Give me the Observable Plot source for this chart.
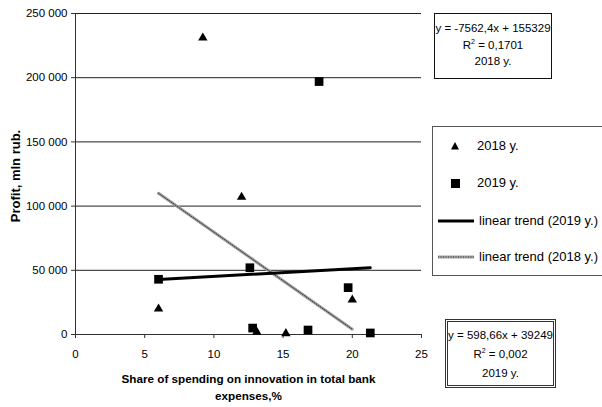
<!DOCTYPE html>
<html>
<head>
<meta charset="utf-8">
<script src="https://cdn.jsdelivr.net/npm/d3@7"></script>
<script src="https://cdn.jsdelivr.net/npm/@observablehq/plot@0.6"></script>
<style>
  html, body { margin: 0; padding: 0; background: #fff; }
  #wrap { position: relative; width: 602px; height: 407px; overflow: hidden; font-family: "Liberation Sans", Arial, sans-serif; color: #000; }
  #wrap svg.plot { position: absolute; left: 0; top: 0; }
  .box { position: absolute; background: #fff; text-align: center; font-size: 11.5px; box-sizing: border-box; }
  #eq2018 { left: 434px; top: 13px; width: 118px; height: 66px; border: 1.5px solid #111; line-height: 16.5px; padding-top: 6px; }
  #eq2019 { left: 445px; top: 319px; width: 111px; height: 69px; border: 3px double #333; line-height: 19px; padding-top: 4px; }
  #legend { position: absolute; left: 432px; top: 126px; width: 190px; height: 148px; border: 1px solid #555; background: #fff; font-size: 13px; }
  .li { position: absolute; left: 0; height: 16px; line-height: 16px; white-space: nowrap; }
  .li svg { position: absolute; left: 0; top: 0; }
  .li span { position: absolute; }
</style>
</head>
<body>
<div id="wrap"></div>
<script>
// ---- data ----
const series = ["2018 y.", "2019 y."];
const x2018 = [9.2, 12.0, 6.0, 13.1, 15.2, 20.0];
const y2018 = [231000, 107000, 20000, 2000, 800, 27000];
const x2019 = [17.6, 6.0, 12.6, 12.8, 16.8, 19.7, 21.3];
const y2019 = [197000, 43000, 52000, 5000, 3500, 36500, 1200];
const slope2018 = -7562.4, intercept2018 = 155329, r2_2018 = "0,1701";
const slope2019 = 598.66, intercept2019 = 39249, r2_2019 = "0,002";
const xTicks = [0, 5, 10, 15, 20, 25];
const yTicks = [0, 50000, 100000, 150000, 200000, 250000];
const xLabel = "Share of spending on innovation in total bank\nexpenses,%";
const yLabel = "Profit, mln rub.";
const trendLabels = ["linear trend (2019 y.)", "linear trend (2018 y.)"];

// ---- derived tables ----
const pts2018 = x2018.map((x, i) => ({x, y: y2018[i]}));
const pts2019 = x2019.map((x, i) => ({x, y: y2019[i]}));
const trend = (xs, m, b) => d3.extent(xs).map(x => ({x, y: m * x + b}));
const tr2018 = trend(x2018, slope2018, intercept2018);
const tr2019 = trend(x2019, slope2019, intercept2019);
const fmt = v => d3.format(",")(v).replace(/,/g, " ");
const fmtNum = v => String(v).replace(".", ",");

const font = "'Liberation Sans', Arial, sans-serif";

const chart = Plot.plot({
  width: 602,
  height: 407,
  marginLeft: 75,
  marginRight: 181,
  marginTop: 13,
  marginBottom: 73,
  style: {fontFamily: font, fontSize: "11px", color: "#000", background: "transparent"},
  x: {domain: [0, 25], ticks: xTicks},
  y: {domain: [0, 250000], ticks: yTicks},
  marks: [
    Plot.gridY(yTicks.filter(d => d > 0), {stroke: "#222", strokeOpacity: 1, strokeWidth: 1}),
    Plot.axisX({ticks: xTicks, tickSize: 4, tickPadding: 11, label: null, stroke: "#333", fontSize: 11.5}),
    Plot.axisY({ticks: yTicks, tickSize: 4, tickPadding: 4, tickFormat: fmt, label: null, stroke: "#333", fontSize: 11.5}),
    Plot.ruleX([0], {stroke: "#333"}),
    Plot.ruleY([0], {stroke: "#333"}),
    Plot.text([yLabel], {frameAnchor: "left", textAnchor: "middle", dx: -60, dy: 2, rotate: -90, fontWeight: "bold", fontSize: 13}),
    Plot.text([xLabel], {frameAnchor: "bottom", dy: 37, lineAnchor: "top", lineHeight: 1.4, fontWeight: "bold", fontSize: 11.7}),
    // 2018 trend: gray line with dotted dark core
    Plot.line(tr2018, {x: "x", y: "y", stroke: "#a0a0a0", strokeWidth: 3}),
    Plot.line(tr2018, {x: "x", y: "y", stroke: "#333", strokeWidth: 1, strokeDasharray: "1,1.5"}),
    // 2019 trend: black
    Plot.line(tr2019, {x: "x", y: "y", stroke: "#000", strokeWidth: 3}),
    Plot.dot(pts2018, {x: "x", y: "y", symbol: "triangle", r: 3.5, fill: "#000", stroke: "none"}),
    Plot.dot(pts2019, {x: "x", y: "y", symbol: "square", r: 4.9, fill: "#000", stroke: "none"})
  ]
});
chart.classList.add("plot");
const wrap = document.getElementById("wrap");
wrap.appendChild(chart);

// ---- equation boxes ----
const eq = (id, m, b, r2, yr) => {
  const d = document.createElement("div");
  d.className = "box"; d.id = id;
  const sign = b >= 0 ? "+" : "-";
  d.innerHTML = `y = ${fmtNum(m)}x ${sign} ${Math.abs(b)}<br>R<sup style="font-size:7px;vertical-align:5px;line-height:0">2</sup> = ${r2}<br>${yr}`;
  wrap.appendChild(d);
};
eq("eq2018", slope2018, intercept2018, r2_2018, series[0]);
eq("eq2019", slope2019, intercept2019, r2_2019, series[1]);

// ---- legend ----
const lg = document.createElement("div");
lg.id = "legend";
const items = [
  {top: 11, sym: `<polygon points="22,4 26,11.5 18,11.5" fill="#000"/>`, text: series[0], tx: 44},
  {top: 48, sym: `<rect x="18" y="4" width="9" height="9" fill="#000"/>`, text: series[1], tx: 44},
  {top: 86, sym: `<line x1="5" x2="41" y1="8" y2="8" stroke="#000" stroke-width="3"/>`, text: trendLabels[0], tx: 46},
  {top: 122, sym: `<line x1="5" x2="41" y1="8" y2="8" stroke="#a0a0a0" stroke-width="3"/><line x1="5" x2="41" y1="8" y2="8" stroke="#333" stroke-width="1" stroke-dasharray="1,1.5"/>`, text: trendLabels[1], tx: 46}
];
for (const it of items) {
  const d = document.createElement("div");
  d.className = "li";
  d.style.top = it.top + "px";
  d.innerHTML = `<svg width="44" height="16">${it.sym}</svg><span style="left:${it.tx}px">${it.text}</span>`;
  lg.appendChild(d);
}
wrap.appendChild(lg);
</script>
</body>
</html>
